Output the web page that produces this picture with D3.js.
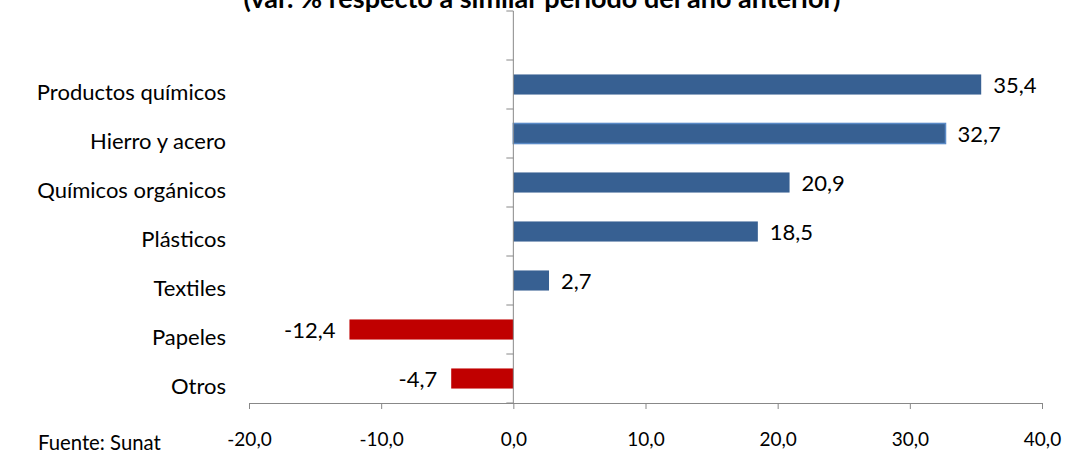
<!DOCTYPE html>
<html>
<head>
<meta charset="utf-8">
<style>
  body { margin: 0; background: #fff; }
  text { font-family: Lato, "Open Sans", sans-serif; fill: #000; }
</style>
</head>
<body>
<svg width="1065" height="453"></svg>
<script src="https://cdn.jsdelivr.net/npm/d3@7"></script>
<script>
// categories top to bottom
var categories = ["Productos químicos", "Hierro y acero", "Químicos orgánicos", "Plásticos", "Textiles", "Papeles", "Otros"];
var values = [35.4, 32.7, 20.9, 18.5, 2.7, -12.4, -4.7];
var xTicks = [-20, -10, 0, 10, 20, 30, 40];
var title = "(var. % respecto a similar período del año anterior)";
var source = "Fuente: Sunat";

var locale = d3.formatLocale({ decimal: ",", thousands: ".", grouping: [3], currency: ["", ""], minus: "-" });
var fmt = locale.format(".1f");

var svg = d3.select("svg");

var x = d3.scaleLinear().domain([-20, 40]).range([249, 1042]);
// one empty band sits above the first category, like the excel chart
var y = d3.scaleBand().domain([""].concat(categories)).range([11, 403]).paddingInner(0.59).paddingOuter(0.295);

// title (cut at top)
svg.append("text")
  .attr("x", 542).attr("y", 8)
  .attr("text-anchor", "middle")
  .style("font-weight", "bold").style("font-size", "27px")
  .text(title);

// bars
svg.selectAll("rect.bar").data(values).enter().append("rect")
  .attr("class", "bar")
  .attr("x", function(d) { return x(Math.min(0, d)); })
  .attr("width", function(d) { return Math.abs(x(d) - x(0)); })
  .attr("y", function(d, i) { return y(categories[i]); })
  .attr("height", y.bandwidth())
  .attr("fill", function(d) { return d < 0 ? "#c00000" : "#376092"; })
  .attr("stroke", function(d, i) { return i == 1 ? "#5a8ac6" : "none"; })
  .attr("stroke-width", 1.5);

// value labels
svg.selectAll("text.val").data(values).enter().append("text")
  .attr("class", "val")
  .attr("x", function(d) { return d < 0 ? x(d) - 14 : x(d) + 12; })
  .attr("y", function(d, i) { return y(categories[i]) + y.bandwidth() / 2 + 1; })
  .attr("dy", "0.35em")
  .attr("text-anchor", function(d) { return d < 0 ? "end" : "start"; })
  .style("font-size", "22px")
  .text(function(d) { return fmt(d); });

// x axis
var xAxis = svg.append("g")
  .attr("transform", "translate(0,403)")
  .call(d3.axisBottom(x).tickValues(xTicks).tickFormat(fmt).tickSizeInner(6).tickSizeOuter(0).tickPadding(24));
xAxis.select(".domain").attr("stroke", "#888");
xAxis.selectAll(".tick line").attr("stroke", "#888");
xAxis.selectAll(".tick text").style("font-size", "19px").attr("font-family", null);

// y axis at zero
var step = y.step();
var yTickPos = d3.range(0, categories.length + 2).map(function(i) { return 11 + i * step; });
var yAxis = svg.append("g").attr("transform", "translate(" + x(0) + ",0)");
yAxis.append("line").attr("y1", 11).attr("y2", 403).attr("stroke", "#888");
yAxis.selectAll("line.tk").data(yTickPos).enter().append("line")
  .attr("class", "tk")
  .attr("x1", -7).attr("x2", 0)
  .attr("y1", function(d) { return d; }).attr("y2", function(d) { return d; })
  .attr("stroke", "#888");

// category labels
svg.selectAll("text.cat").data(categories).enter().append("text")
  .attr("class", "cat")
  .attr("x", 226)
  .attr("y", function(d) { return y(d) + y.bandwidth() / 2 + 8; })
  .attr("dy", "0.35em")
  .attr("text-anchor", "end")
  .style("font-size", "22px")
  .text(function(d) { return d; });

// source note
svg.append("text")
  .attr("x", 38).attr("y", 450)
  .style("font-size", "20.3px")
  .text(source);
</script>
</body>
</html>
